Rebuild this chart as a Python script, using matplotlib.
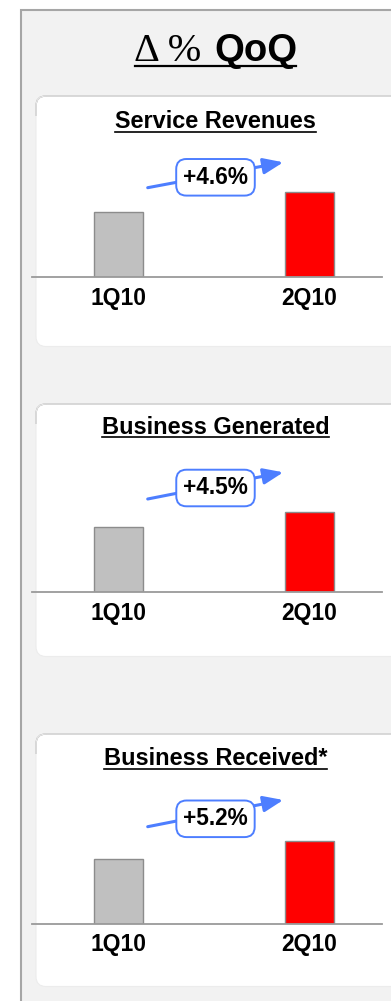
import matplotlib
matplotlib.use('Agg')
import matplotlib.pyplot as plt
from matplotlib.patches import FancyBboxPatch, Rectangle

# --- data ---
quarters = ['1Q10', '2Q10']
panel_titles = ['Service Revenues', 'Business Generated', 'Business Received*']
growth_labels = ['+4.6%', '+4.5%', '+5.2%']
q1_values = [65, 65, 65]
q2_values = [85, 80, 83]

# --- layout (pixels, origin top-left) ---
W, H = 391, 1001
panel_tops = [96, 404, 734]
panel_bottoms = [346.5, 656.5, 986.5]
title_baselines = [128.5, 433.5, 765]
baselines = [277.3, 592.3, 923.7]
# callout: (arrow start y, arrow end y, box centre y) in bar-axes data units
callouts = [(89.6, 115.0, 100.0), (93.3, 120.0, 104.3), (97.0, 123.7, 104.9)]

SANS = 'Liberation Sans'
BLUE = '#4d7eff'

fig = plt.figure(figsize=(W / 100, H / 100), dpi=100)
bg = fig.add_axes([0, 0, 1, 1])
bg.set_xlim(0, W)
bg.set_ylim(H, 0)
bg.axis('off')

# outer grey frame
bg.add_patch(Rectangle((21, 10), 420, 1040, facecolor='#f2f2f2',
                       edgecolor='#a6a6a6', lw=1.5))

# main heading
bg.text(134, 61, 'Δ %', fontsize=29, family='Liberation Serif', ha='left', va='baseline')
bg.text(297, 61, 'QoQ', fontsize=27.5, family=SANS, weight='bold', ha='right', va='baseline')
bg.plot([135, 296], [66, 66], color='black', lw=1.6)


def underline(txt, y, lw=1.2):
    fig.canvas.draw()
    bb = txt.get_window_extent()
    bg.plot([bb.x0, bb.x1], [y, y], color='black', lw=lw)


for i in range(3):
    top, bot = panel_tops[i], panel_bottoms[i]
    # white card, running off the right edge
    bg.add_patch(FancyBboxPatch((36, top), 366, bot - top,
                                boxstyle='round,pad=0,rounding_size=10',
                                facecolor='white', edgecolor='none', zorder=1))
    # card border, strongest along the top edge
    edge = FancyBboxPatch((36, top), 366, bot - top,
                          boxstyle='round,pad=0,rounding_size=10',
                          facecolor='none', edgecolor='#a8a8a8', lw=1.0, zorder=2)
    bg.add_patch(edge)
    clip = Rectangle((0, top - 5), W, 25, transform=bg.transData, visible=False)
    bg.add_patch(clip)
    edge.set_clip_path(clip)
    edge2 = FancyBboxPatch((36, top), 366, bot - top,
                           boxstyle='round,pad=0,rounding_size=10',
                           facecolor='none', edgecolor='#ececec', lw=0.8, zorder=2)
    bg.add_patch(edge2)

    t = bg.text(215.5, title_baselines[i], panel_titles[i], fontsize=16.9,
                family=SANS, weight='bold', ha='center', va='baseline', zorder=3)
    underline(t, title_baselines[i] + 3.7)

    # bar axes: 1 data unit = 1 pixel vertically
    base = baselines[i]
    ax = fig.add_axes([32 / W, (H - base) / H, 350 / W, 130 / H])
    ax.set_facecolor('none')
    ax.set_xlim(-0.453, 1.380)
    ax.set_ylim(0, 130)
    ax.bar([0, 1], [q1_values[i], q2_values[i]], width=0.257,
           color=['#c0c0c0', '#ff0000'], edgecolor='#8c8c8c', lw=1.0, zorder=2)
    for s in ['top', 'right', 'left']:
        ax.spines[s].set_visible(False)
    ax.spines['bottom'].set_color('#9a9a9a')
    ax.spines['bottom'].set_linewidth(1.3)
    ax.set_yticks([])
    ax.set_xticks([0, 1])
    ax.set_xticklabels(quarters, fontsize=16.5, family=SANS, weight='bold')
    ax.tick_params(axis='x', length=0, pad=7)

    y0, y1, yb = callouts[i]
    ax.annotate('', xy=(0.863, y1), xytext=(0.153, y0), annotation_clip=False,
                arrowprops=dict(arrowstyle='-|>,head_length=0.5,head_width=0.2',
                                color=BLUE, lw=2.2, mutation_scale=24,
                                shrinkA=0, shrinkB=0))
    ax.text(0.508, yb, growth_labels[i], fontsize=16.3, family=SANS, weight='bold',
            ha='center', va='center', clip_on=False, zorder=5,
            bbox=dict(boxstyle='round,pad=0.3,rounding_size=0.45', facecolor='white',
                      edgecolor=BLUE, lw=1.4))

fig.savefig('out.png', dpi=100)
